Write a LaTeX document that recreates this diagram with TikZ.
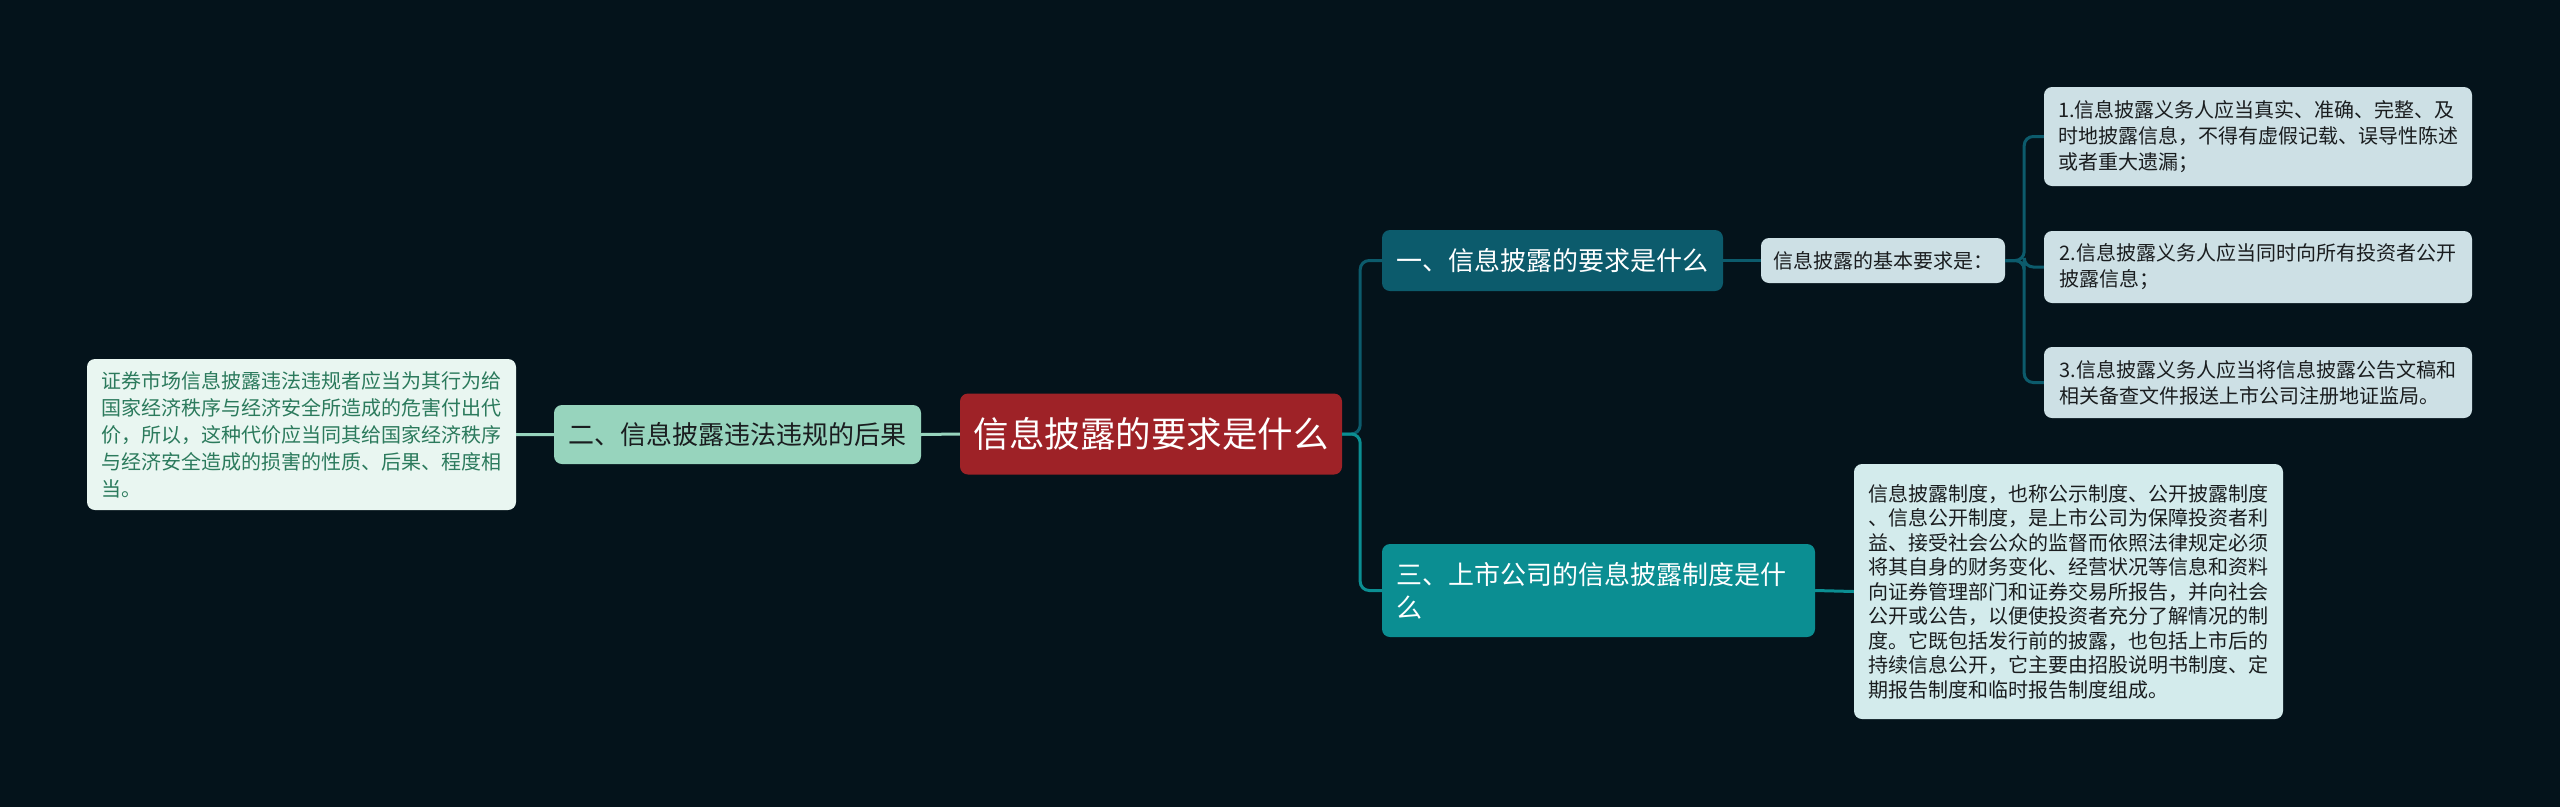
\documentclass[tikz,border=0pt]{standalone}
\usepackage{fontspec}
\newfontfamily\cjk{Noto Sans CJK SC}
\definecolor{bg}{HTML}{04131B}
\definecolor{rootred}{HTML}{9E2227}
\definecolor{mint}{HTML}{97D4BD}
\definecolor{mintpale}{HTML}{E9F6F1}
\definecolor{mintink}{HTML}{2B7A5C}
\definecolor{tealdark}{HTML}{0C5B6C}
\definecolor{tealmid}{HTML}{0B8E92}
\definecolor{leafgray}{HTML}{CDE0E5}
\definecolor{leafcyan}{HTML}{D3EBEC}
\definecolor{ink}{HTML}{1A1D1F}
\tikzset{
  box/.style={rounded corners=8pt,inner sep=0pt,align=left},
  leaf/.style={box,fill=leafgray,text=ink,font=\cjk\fontsize{20}{26}\selectfont},
  edge/.style={line width=3pt,rounded corners=9pt}
}

\begin{document}
\begin{tikzpicture}[x=1pt,y=-1pt]
\useasboundingbox[fill=bg] (0,0) rectangle (2560,807);
\node[box,fill=rootred,text=white,font=\cjk\fontsize{35.5}{40}\selectfont,minimum width=382pt,minimum height=81pt] (root) at (1151,434) {信息披露的要求是什么};
\node[box,fill=mint,text=ink,font=\cjk\fontsize{26}{32}\selectfont,minimum width=367pt,minimum height=59pt] (harm) at (737.5,434.5) {二、信息披露违法违规的后果};
\node[box,fill=mintpale,text=mintink,font=\cjk\fontsize{20}{27}\selectfont,minimum width=429pt,minimum height=151pt] (harmtxt) at (301.5,434.5) {证券市场信息披露违法违规者应当为其行为给\\国家经济秩序与经济安全所造成的危害付出代\\价，所以，这种代价应当同其给国家经济秩序\\与经济安全造成的损害的性质、后果、程度相\\当。};
\node[box,fill=tealdark,text=white,font=\cjk\fontsize{26}{32}\selectfont,minimum width=341pt,minimum height=61pt] (req) at (1552.5,260.5) {一、信息披露的要求是什么};
\node[leaf,minimum width=244pt,minimum height=45pt] (basic) at (1883,260.5) {信息披露的基本要求是：};
\node[leaf,minimum width=428pt,minimum height=99pt] (r1) at (2258,136.5) {1.信息披露义务人应当真实、准确、完整、及\\时地披露信息，不得有虚假记载、误导性陈述\\或者重大遗漏；};
\node[leaf,minimum width=428pt,minimum height=72pt] (r2) at (2258,267) {2.信息披露义务人应当同时向所有投资者公开\\披露信息；};
\node[leaf,minimum width=428pt,minimum height=71pt] (r3) at (2258,382.5) {3.信息披露义务人应当将信息披露公告文稿和\\相关备查文件报送上市公司注册地证监局。};
\node[box,fill=tealmid,text=white,font=\cjk\fontsize{26}{33}\selectfont,text width=405pt,inner xsep=14pt,minimum height=93pt] (sys) at (1598.5,590.5) {三、上市公司的信息披露制度是什\\么};
\node[leaf,fill=leafcyan,font=\cjk\fontsize{20}{24.5}\selectfont,minimum width=429pt,minimum height=255pt] (systxt) at (2068.5,591.5) {信息披露制度，也称公示制度、公开披露制度\\、信息公开制度，是上市公司为保障投资者利\\益、接受社会公众的监督而依照法律规定必须\\将其自身的财务变化、经营状况等信息和资料\\向证券管理部门和证券交易所报告，并向社会\\公开或公告，以便使投资者充分了解情况的制\\度。它既包括发行前的披露，也包括上市后的\\持续信息公开，它主要由招股说明书制度、定\\期报告制度和临时报告制度组成。};
\draw[edge,mint] (root.west)--(harm.east) (harm.west)--(harmtxt.east);
\draw[edge,tealdark] (root.east)--++(18,0)|-(req.west);
\draw[edge,tealmid] (root.east)--++(18,0)|-(sys.west);
\draw[edge,tealdark] (req.east)--(basic.west);
\foreach \r in {r1,r2,r3}
  \draw[edge,tealdark] (basic.east)--++(19,0)|-(\r.west);
\draw[edge,tealmid] (sys.east)--(systxt.west);
\end{tikzpicture}
\end{document}
